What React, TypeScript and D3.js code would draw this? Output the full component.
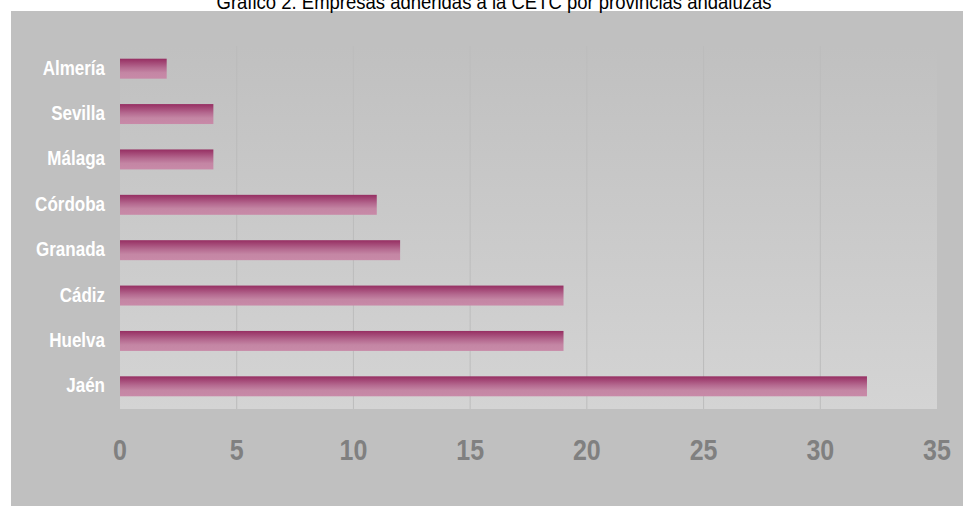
import React from "react";
import * as d3 from "d3";

const categories = ["Almería", "Sevilla", "Málaga", "Córdoba", "Granada", "Cádiz", "Huelva", "Jaén"];
const values = [2, 4, 4, 11, 12, 19, 19, 32];
const xTicks = [0, 5, 10, 15, 20, 25, 30, 35];
const title = "Gráfico 2. Empresas adheridas a la CETC por provincias andaluzas";

const W = 963;
const H = 506;
const plot = { left: 120, right: 937, top: 46, bottom: 409 };
const narrow = "'Liberation Sans Narrow', 'Arial Narrow', 'Liberation Sans', Arial, sans-serif";

export default function App() {
  const x = d3.scaleLinear().domain([0, 35]).range([plot.left, plot.right]);
  const y = d3.scaleBand<string>().domain(categories).range([plot.top, plot.bottom]).paddingInner(0.56).paddingOuter(0.28);
  const bh = y.bandwidth();
  return (
    <div style={{ position: "fixed", left: 0, top: 0 }}>
      <svg width={W} height={H} style={{ display: "block" }}>
        <defs>
          <linearGradient id="plotBg" x1="0" y1="0" x2="0" y2="1">
            <stop offset="0" stopColor="#c0c0c0" />
            <stop offset="1" stopColor="#d4d4d4" />
          </linearGradient>
          <linearGradient id="barGrad" x1="0" y1="0" x2="0" y2="1">
            <stop offset="0" stopColor="#962e62" />
            <stop offset="0.45" stopColor="#b56a90" />
            <stop offset="0.7" stopColor="#c486a4" />
            <stop offset="1" stopColor="#c88aa8" />
          </linearGradient>
        </defs>
        <rect x={0} y={0} width={W} height={H} fill="#ffffff" />
        <rect x={11} y={11} width={W - 11} height={H - 11} fill="#c0c0c0" />
        <rect x={plot.left} y={plot.top} width={plot.right - plot.left} height={plot.bottom - plot.top} fill="url(#plotBg)" />
        {xTicks.slice(1, -1).map((t) => (
          <line key={"g" + t} x1={x(t)} x2={x(t)} y1={plot.top} y2={plot.bottom} stroke="#bcbcbc" strokeWidth={1} />
        ))}
        {categories.map((c, i) => (
          <rect key={c} x={x(0)} y={y(c)!} width={x(values[i]) - x(0)} height={bh} fill="url(#barGrad)" />
        ))}
        {categories.map((c) => {
          const cy = y(c)! + bh / 2;
          return (
            <text
              key={"l" + c}
              transform={`translate(105,${cy + 6}) scale(1,1.16)`}
              textAnchor="end"
              fontFamily={narrow}
              fontWeight="bold"
              fontSize={17}
              fill="#ffffff"
            >
              {c}
            </text>
          );
        })}
        {xTicks.map((t) => (
          <text
            key={"t" + t}
            transform={`translate(${x(t)},460) scale(1,1.16)`}
            textAnchor="middle"
            fontFamily={narrow}
            fontWeight="bold"
            fontSize={25}
            fill="#808080"
          >
            {t}
          </text>
        ))}
        <text
          transform="translate(494,8.5) scale(1,1.1)"
          textAnchor="middle"
          fontFamily="'Liberation Sans', Arial, sans-serif"
          fontSize={18.5}
          fill="#000000"
        >
          {title}
        </text>
      </svg>
    </div>
  );
}
